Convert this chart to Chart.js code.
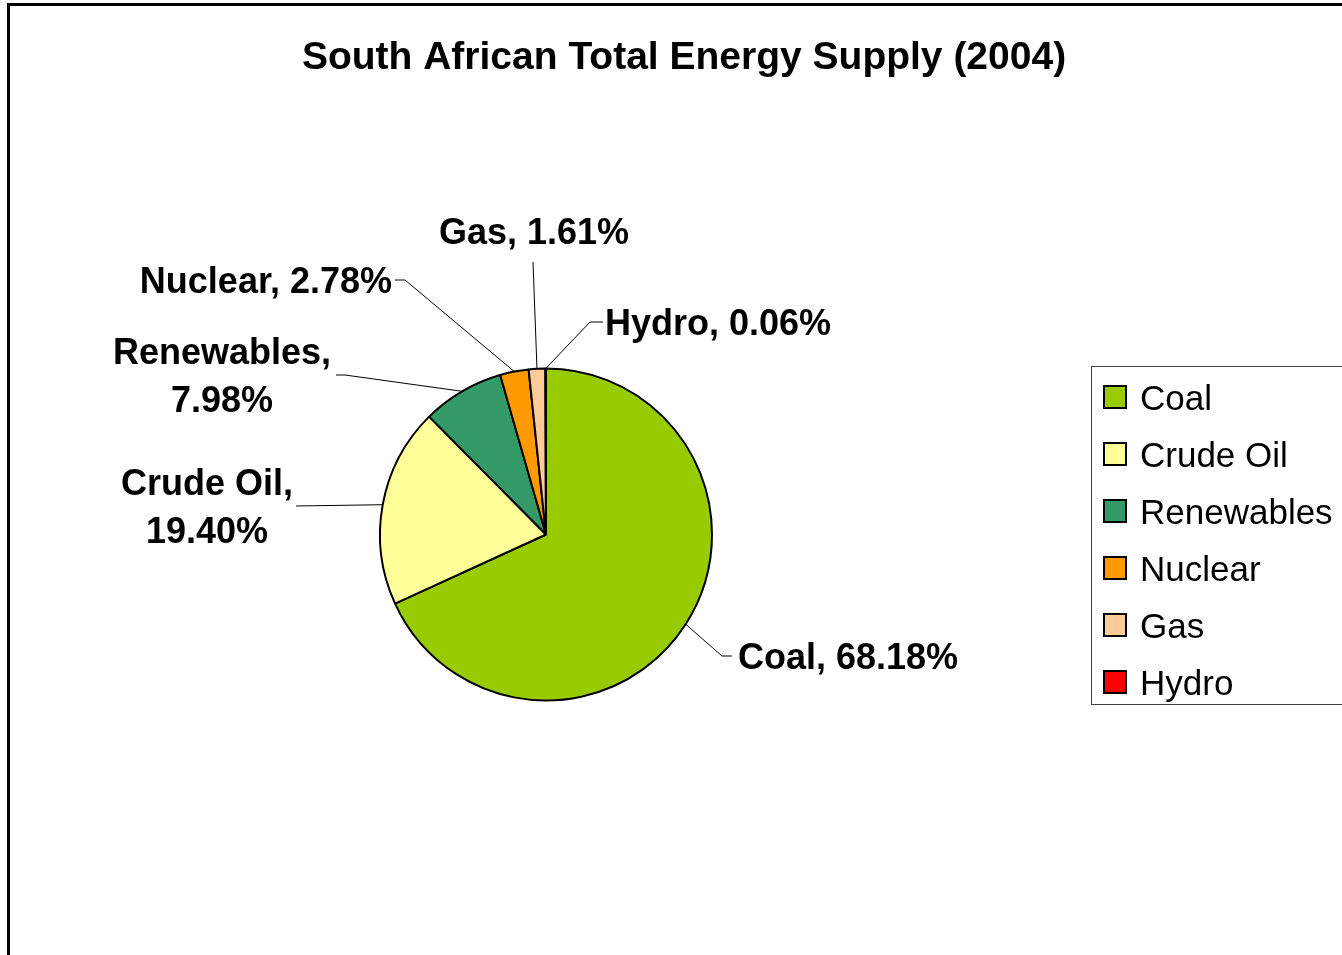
<!DOCTYPE html>
<html>
<head>
<meta charset="utf-8">
<title>South African Total Energy Supply (2004)</title>
<script src="https://cdn.jsdelivr.net/npm/chart.js@4/dist/chart.umd.min.js"></script>
<style>
  html, body { margin: 0; padding: 0; background: #fff; overflow: hidden; }
  #wrap { width: 1342px; height: 955px; position: relative; }
</style>
</head>
<body>
<div id="wrap"><canvas id="chartEnergia" width="1342" height="955"></canvas></div>
<script>
// DATI
const titolo = 'South African Total Energy Supply (2004)';
const fonti = ['Coal', 'Crude Oil', 'Renewables', 'Nuclear', 'Gas', 'Hydro'];
const percentuali = [68.18, 19.40, 7.98, 2.78, 1.61, 0.06];
const colori = ['#99CC00', '#FFFF99', '#339966', '#FF9900', '#FFCC99', '#FF0000'];

// posizione etichette (baseline alfabetica) e punti delle linee guida
const layoutEtichette = [
  { x: 738, y: 669, align: 'left',   spezza: false, guida: [[722, 656], [732, 656]] },
  { x: 207, y: 495, align: 'center', spezza: true,  guida: [[296, 506]] },
  { x: 222, y: 364, align: 'center', spezza: true,  guida: [[345, 375], [336, 375]] },
  { x: 392, y: 293, align: 'right',  spezza: false, guida: [[405, 280], [395, 280]] },
  { x: 534, y: 244, align: 'center', spezza: false, guida: [[533, 262]] },
  { x: 605, y: 335, align: 'left',   spezza: false, guida: [[590, 322], [603, 322]] }
];
const FONT = '"Liberation Sans", Arial, Helvetica, sans-serif';

const pluginDecorazioni = {
  id: 'decorazioni',
  afterDraw(chart) {
    const ctx = chart.ctx;
    ctx.save();

    // cornice
    ctx.strokeStyle = '#000';
    ctx.lineWidth = 3;
    ctx.strokeRect(8.5, 4.5, 1400, 1000);

    // titolo
    ctx.fillStyle = '#000';
    ctx.font = 'bold 39px ' + FONT;
    ctx.textAlign = 'center';
    ctx.textBaseline = 'alphabetic';
    ctx.fillText(titolo, 684, 69);

    // linee guida + etichette
    const meta = chart.getDatasetMeta(0);
    meta.data.forEach((arc, i) => {
      const lay = layoutEtichette[i];
      const p = arc.getProps(['x', 'y', 'startAngle', 'endAngle', 'outerRadius'], true);
      const mid = (p.startAngle + p.endAngle) / 2;
      ctx.beginPath();
      ctx.strokeStyle = '#000';
      ctx.lineWidth = 1;
      ctx.moveTo(p.x + Math.cos(mid) * p.outerRadius, p.y + Math.sin(mid) * p.outerRadius);
      lay.guida.forEach(pt => ctx.lineTo(pt[0], pt[1]));
      ctx.stroke();

      ctx.fillStyle = '#000';
      ctx.font = 'bold 36px ' + FONT;
      ctx.textAlign = lay.align;
      const valore = percentuali[i].toFixed(2) + '%';
      if (lay.spezza) {
        ctx.fillText(fonti[i] + ',', lay.x, lay.y);
        ctx.fillText(valore, lay.x, lay.y + 48);
      } else {
        ctx.fillText(fonti[i] + ', ' + valore, lay.x, lay.y);
      }
    });

    // legenda
    ctx.lineWidth = 1;
    ctx.strokeStyle = '#444';
    ctx.strokeRect(1091.5, 366.5, 300, 338);
    ctx.font = '35px ' + FONT;
    ctx.textAlign = 'left';
    fonti.forEach((nome, i) => {
      const base = 410 + i * 57;
      ctx.fillStyle = colori[i];
      ctx.fillRect(1104, base - 24, 22, 22);
      ctx.strokeStyle = '#000';
      ctx.lineWidth = 2;
      ctx.strokeRect(1104, base - 24, 22, 22);
      ctx.fillStyle = '#000';
      ctx.fillText(nome, 1140, base);
    });

    ctx.restore();
  }
};

window.addEventListener('DOMContentLoaded', () => {
  const ctx = document.getElementById('chartEnergia').getContext('2d');
  new Chart(ctx, {
    type: 'pie',
    data: {
      labels: fonti,
      datasets: [{
        data: percentuali,
        backgroundColor: colori,
        borderColor: '#000',
        borderWidth: 2,
        borderAlign: 'center',
        radius: 166,
        hoverOffset: 0
      }]
    },
    options: {
      responsive: false,
      animation: false,
      devicePixelRatio: 1,
      layout: { padding: { left: 380, right: 630, top: 369, bottom: 255 } },
      plugins: { legend: { display: false }, tooltip: { enabled: false }, title: { display: false } },
      events: []
    },
    plugins: [pluginDecorazioni]
  });
});
</script>
</body>
</html>
